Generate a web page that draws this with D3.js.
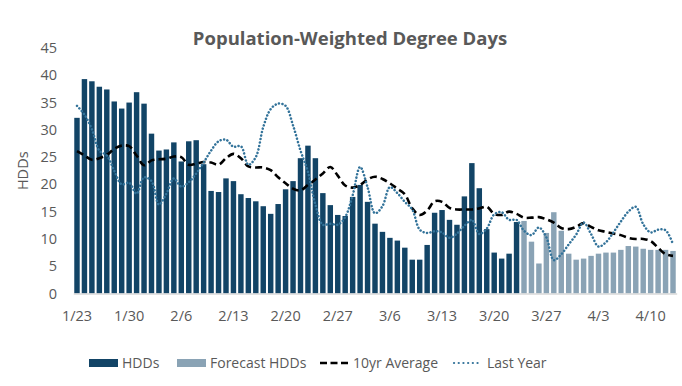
<!DOCTYPE html>
<html>
<head>
<meta charset="utf-8">
<script src="https://cdn.jsdelivr.net/npm/d3@7"></script>
<style>
  body { margin: 0; background: #fff; }
  svg text { font-family: "Open Sans", "Noto Sans", sans-serif; fill: #595959; }
</style>
</head>
<body>
<svg id="chart" width="682" height="386"></svg>
<script>
//// DATA

// one label per day, 1/23 to 4/13
const days = [
  "1/23","1/24","1/25","1/26","1/27","1/28","1/29","1/30","1/31",
  "2/1","2/2","2/3","2/4","2/5","2/6","2/7","2/8","2/9","2/10","2/11","2/12","2/13","2/14",
  "2/15","2/16","2/17","2/18","2/19","2/20","2/21","2/22","2/23","2/24","2/25","2/26","2/27","2/28",
  "3/1","3/2","3/3","3/4","3/5","3/6","3/7","3/8","3/9","3/10","3/11","3/12","3/13","3/14",
  "3/15","3/16","3/17","3/18","3/19","3/20","3/21","3/22","3/23","3/24","3/25","3/26","3/27","3/28",
  "3/29","3/30","3/31","4/1","4/2","4/3","4/4","4/5","4/6","4/7","4/8","4/9","4/10","4/11","4/12","4/13"
];
const tickDays = ["1/23","1/30","2/6","2/13","2/20","2/27","3/6","3/13","3/20","3/27","4/3","4/10"];

// observed HDDs, 1/23 - 3/23
const hdds = [
  32.2, 39.3, 38.9, 37.9, 37.4, 35.2, 33.9, 35.0, 36.9, 34.8,
  29.3, 26.2, 26.4, 27.7, 24.2, 27.9, 28.1, 23.7, 18.8, 18.6,
  21.1, 20.6, 18.2, 17.5, 16.9, 16.0, 14.6, 16.4, 19.1, 20.6,
  24.8, 27.1, 24.8, 18.4, 16.2, 14.4, 14.2, 17.7, 19.9, 16.8,
  12.8, 11.3, 10.2, 9.7, 8.4, 6.2, 6.2, 8.9, 14.8, 15.3,
  13.5, 12.6, 17.8, 23.9, 19.3, 11.8, 7.5, 6.4, 7.3, 13.1
];
// forecast HDDs, 3/24 - 4/13
const forecastHdds = [
  13.3, 9.5, 5.5, 11.1, 14.9, 11.5, 7.3, 6.2, 6.4, 6.9,
  7.3, 7.5, 7.5, 8.0, 8.7, 8.6, 8.2, 8.0, 8.0, 8.0, 7.8
];
const tenYearAvg = [
  26.1, 25.3, 24.5, 24.8, 25.4, 26.5, 27.1, 27.0, 25.3, 23.5,
  24.4, 24.6, 24.7, 25.1, 25.0, 23.6, 23.8, 24.1, 24.0, 23.6,
  24.8, 25.6, 24.8, 23.3, 23.1, 23.1, 22.6, 21.3, 20.2, 19.2,
  18.9, 19.9, 20.9, 22.0, 23.2, 21.6, 19.8, 19.4, 19.9, 20.9,
  21.4, 21.0, 20.2, 19.2, 18.2, 15.6, 14.4, 15.2, 16.9, 16.8,
  15.7, 15.4, 15.4, 15.4, 15.6, 15.9, 14.6, 14.4, 15.0, 14.6,
  13.9, 13.9, 14.0, 13.6, 13.0, 12.0, 11.8, 12.2, 12.9, 12.2,
  11.6, 11.3, 11.0, 10.7, 10.2, 10.0, 10.0, 9.6, 8.4, 7.2, 6.9
];
const lastYear = [
  34.4, 32.8, 30.1, 26.2, 25.3, 22.5, 20.0, 20.3, 18.3, 21.3,
  20.6, 16.3, 18.3, 21.1, 19.6, 20.4, 22.0, 24.0, 26.2, 27.9,
  28.2, 26.9, 27.0, 23.6, 25.0, 30.5, 33.8, 34.8, 34.4, 30.8,
  26.2, 22.3, 16.3, 12.6, 12.8, 12.6, 14.0, 18.0, 23.2, 19.5,
  14.7, 16.0, 19.5, 18.4, 16.8, 15.4, 11.7, 11.1, 11.4, 11.2,
  10.2, 11.0, 12.4, 13.5, 10.9, 11.9, 14.5, 14.9, 13.5, 13.5,
  11.5, 10.7, 12.1, 10.3, 6.1, 7.2, 9.0, 10.8, 13.0, 10.9,
  8.6, 9.4, 11.2, 13.2, 15.0, 15.9, 12.7, 11.2, 11.7, 11.6, 9.0
];
const yTicks = [0, 5, 10, 15, 20, 25, 30, 35, 40, 45];

//// SETTINGS
const colors = {
  hdd: "#124466",
  forecast: "#8aa3b5",
  avg: "#000000",
  last: "#33739a"
};

const svg = d3.select("#chart");

const x = d3.scaleBand()
  .domain(days)
  .range([73.3, 676.7])
  .paddingInner(0.27)
  .paddingOuter(0.13);

const y = d3.scaleLinear()
  .domain([0, 45])
  .range([293.5, 48]);

//// DRAW

// title
svg.append("text")
  .attr("x", 350)
  .attr("y", 45)
  .attr("text-anchor", "middle")
  .style("font-size", "18.5px")
  .style("font-weight", "bold")
  .text("Population-Weighted Degree Days");

// y axis labels
svg.append("g")
  .selectAll("text")
  .data(yTicks)
  .enter()
  .append("text")
  .attr("x", 57)
  .attr("y", d => y(d))
  .attr("dy", "0.35em")
  .attr("text-anchor", "end")
  .style("font-size", "14.5px")
  .text(d => d);

svg.append("text")
  .attr("transform", "translate(28," + y(22.5) + ") rotate(-90)")
  .attr("text-anchor", "middle")
  .style("font-size", "14.5px")
  .text("HDDs");

// bars
const barData = days.map((d, i) => ({
  day: d,
  value: i < hdds.length ? hdds[i] : forecastHdds[i - hdds.length],
  forecast: i >= hdds.length
}));

svg.append("g")
  .selectAll("rect")
  .data(barData)
  .enter()
  .append("rect")
  .attr("x", d => x(d.day))
  .attr("width", x.bandwidth())
  .attr("y", d => y(d.value))
  .attr("height", d => y(0) - y(d.value))
  .attr("fill", d => d.forecast ? colors.forecast : colors.hdd);

// x axis
const xAxis = d3.axisBottom(x)
  .tickValues(tickDays)
  .tickSize(0)
  .tickPadding(17);

const gx = svg.append("g")
  .attr("transform", "translate(0," + y(0) + ")")
  .call(xAxis);
gx.select(".domain").attr("stroke", "#d9d9d9").attr("stroke-width", 1.5);
gx.selectAll("text")
  .style("font-size", "14.5px")
  .style("font-family", "'Open Sans', sans-serif")
  .attr("fill", "#595959");

// lines
const cx = d => x(d) + x.bandwidth() / 2;

const line = d3.line()
  .x((d, i) => cx(days[i]))
  .y(d => y(d))
  .curve(d3.curveCatmullRom.alpha(0.5));

svg.append("path")
  .datum(tenYearAvg)
  .attr("d", line)
  .attr("fill", "none")
  .attr("stroke", colors.avg)
  .attr("stroke-width", 2.6)
  .attr("stroke-dasharray", "7,4");

svg.append("path")
  .datum(lastYear)
  .attr("d", line)
  .attr("fill", "none")
  .attr("stroke", colors.last)
  .attr("stroke-width", 2.5)
  .attr("stroke-linecap", "round")
  .attr("stroke-dasharray", "0.1,3.4");

// legend
const legend = svg.append("g").attr("transform", "translate(0,363)");

legend.append("rect").attr("x", 89).attr("y", -4).attr("width", 29).attr("height", 8).attr("fill", colors.hdd);
legend.append("text").attr("x", 122).attr("dy", "0.35em").style("font-size", "14px").text("HDDs");

legend.append("rect").attr("x", 177).attr("y", -4).attr("width", 29).attr("height", 8).attr("fill", colors.forecast);
legend.append("text").attr("x", 210).attr("dy", "0.35em").style("font-size", "14px").text("Forecast HDDs");

legend.append("line").attr("x1", 320).attr("x2", 348).attr("y1", 0).attr("y2", 0)
  .attr("stroke", colors.avg).attr("stroke-width", 2.6).attr("stroke-dasharray", "7,3.5");
legend.append("text").attr("x", 353).attr("dy", "0.35em").style("font-size", "14px").text("10yr Average");

legend.append("line").attr("x1", 454).attr("x2", 482).attr("y1", 0).attr("y2", 0)
  .attr("stroke", colors.last).attr("stroke-width", 2.2).attr("stroke-linecap", "round").attr("stroke-dasharray", "0.1,4.6");
legend.append("text").attr("x", 487).attr("dy", "0.35em").style("font-size", "14px").text("Last Year");
</script>
</body>
</html>
